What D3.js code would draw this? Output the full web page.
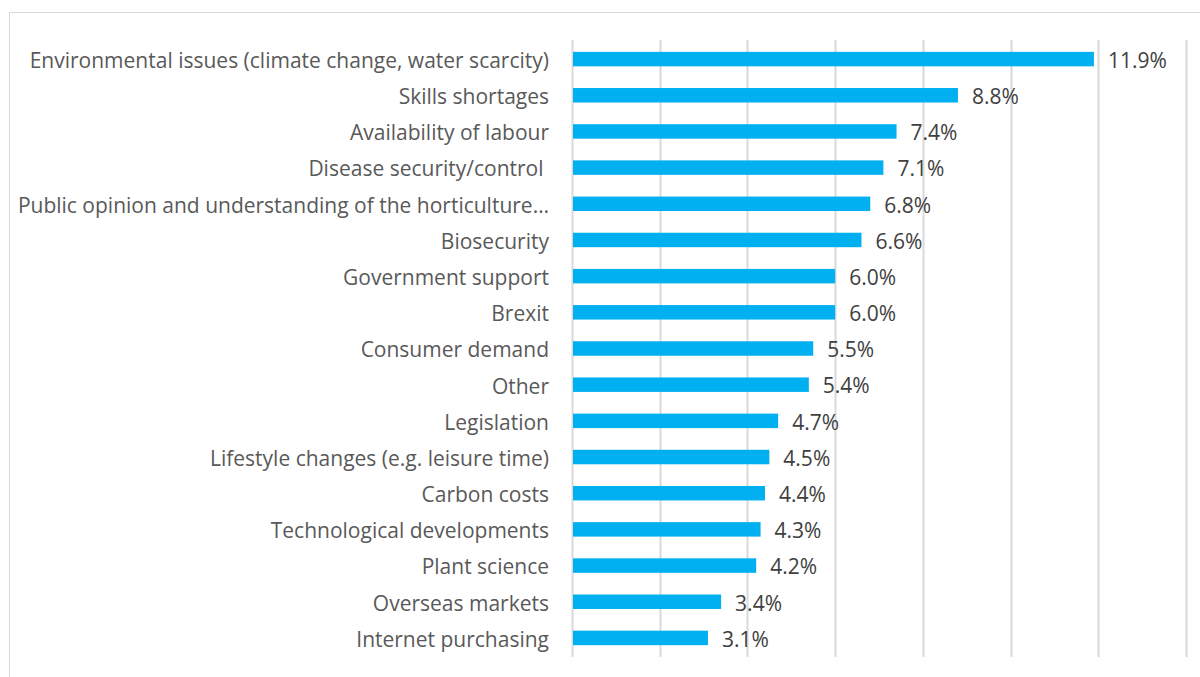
<!DOCTYPE html>
<html>
<head>
<meta charset="utf-8">
<script src="https://cdn.jsdelivr.net/npm/d3@7"></script>
<style>
  html, body { margin: 0; padding: 0; background: #fff; }
  svg text { white-space: pre; }
</style>
</head>
<body>
<svg id="chart" width="1200" height="677"></svg>
<script>
// Factors affecting the sector, share of responses (%)
const categories = [
  "Environmental issues (climate change, water scarcity)",
  "Skills shortages",
  "Availability of labour",
  "Disease security/control ",
  "Public opinion and understanding of the horticulture\u2026",
  "Biosecurity",
  "Government support",
  "Brexit",
  "Consumer demand",
  "Other",
  "Legislation",
  "Lifestyle changes (e.g. leisure time)",
  "Carbon costs",
  "Technological developments",
  "Plant science",
  "Overseas markets",
  "Internet purchasing"
];
const values = [11.9, 8.8, 7.4, 7.1, 6.8, 6.6, 6.0, 6.0, 5.5, 5.4, 4.7, 4.5, 4.4, 4.3, 4.2, 3.4, 3.1];
const gridTicks = [0, 2, 4, 6, 8, 10, 12, 14];

const svg = d3.select("#chart");
const font = "'Open Sans', sans-serif";

// chart frame
svg.append("rect")
  .attr("x", 9.5).attr("y", 12.5)
  .attr("width", 1200).attr("height", 700)
  .attr("fill", "none").attr("stroke", "#d9d9d9").attr("stroke-width", 1);

const x = d3.scaleLinear().domain([0, 14]).range([572, 1186]);
const y = d3.scaleBand().domain(categories).range([41, 656]).paddingInner(0.6).paddingOuter(0.3);

// vertical gridlines
svg.append("g")
  .selectAll("line")
  .data(gridTicks)
  .join("line")
  .attr("x1", d => Math.round(x(d)) + 0.5)
  .attr("x2", d => Math.round(x(d)) + 0.5)
  .attr("y1", 40).attr("y2", 657)
  .attr("stroke", "#d9d9d9").attr("stroke-width", 2);

// bars
svg.append("g")
  .selectAll("rect")
  .data(values)
  .join("rect")
  .attr("x", x(0) + 1)
  .attr("y", (d, i) => y(categories[i]))
  .attr("width", d => x(d) - x(0) - 1)
  .attr("height", y.bandwidth())
  .attr("fill", "#00b0f0");

// category labels
const yAxis = d3.axisLeft(y).tickSize(0).tickPadding(23);
const ya = svg.append("g").attr("transform", `translate(${x(0)},0)`).call(yAxis);
ya.select(".domain").remove();
ya.selectAll("text")
  .attr("dy", "0.42em")
  .attr("font-family", font)
  .attr("font-size", 21)
  .attr("fill", "#595959");

// value labels
svg.append("g")
  .selectAll("text")
  .data(values)
  .join("text")
  .attr("x", d => x(d) + 14)
  .attr("y", (d, i) => y(categories[i]) + y.bandwidth() / 2)
  .attr("dy", "0.42em")
  .attr("font-family", font)
  .attr("font-size", 21)
  .attr("fill", "#404040")
  .text(d => d.toFixed(1) + "%");
</script>
</body>
</html>
